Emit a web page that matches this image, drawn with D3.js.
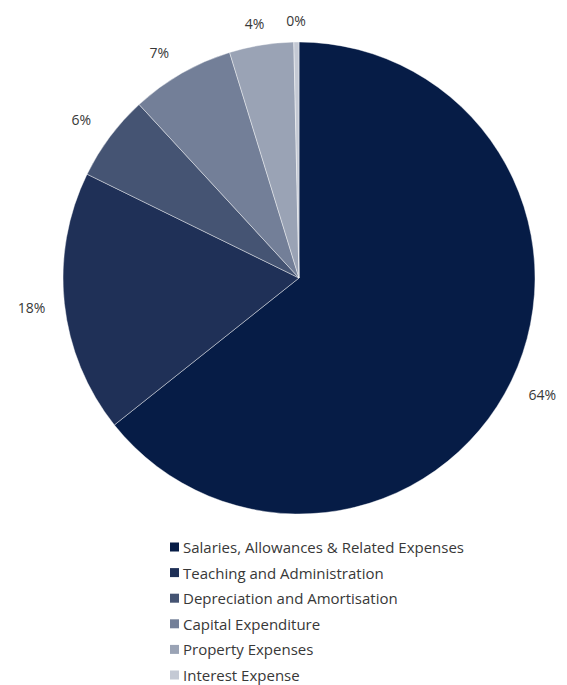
<!DOCTYPE html>
<html>
<head>
<meta charset="utf-8">
<script src="https://cdn.jsdelivr.net/npm/d3@7"></script>
<style>
  html, body { margin: 0; padding: 0; background: #fff; }
  svg { display: block; font-family: "Open Sans", Roboto, sans-serif; }
</style>
</head>
<body>
<svg id="chart"></svg>
<script>
// categories and shares (fractions of total spend)
const categories = [
  "Salaries, Allowances & Related Expenses",
  "Teaching and Administration",
  "Depreciation and Amortisation",
  "Capital Expenditure",
  "Property Expenses",
  "Interest Expense"
];
const shares = [0.643, 0.1795, 0.059, 0.071, 0.044, 0.0035];
const sliceColors = ["#061c46", "#1f3057", "#455473", "#737f98", "#9aa3b5", "#c4c9d4"];

const width = 567, height = 685;
const cx = 299, cy = 278, radius = 236;

const svg = d3.select("#chart")
  .attr("width", width)
  .attr("height", height);

const data = categories.map((c, i) => ({ name: c, value: shares[i] }));
const total = d3.sum(shares);
const fmt = d3.format(".0%");

const pie = d3.pie()
  .value(d => d.value)
  .sort(null);

const arc = d3.arc()
  .innerRadius(0)
  .outerRadius(radius);

const color = d3.scaleOrdinal()
  .domain(categories)
  .range(sliceColors);

const arcs = pie(data);

const viewPort = svg.append("g")
  .attr("transform", `translate(${cx}, ${cy})`);

viewPort.selectAll("path")
  .data(arcs)
  .join("path")
    .attr("d", arc)
    .attr("fill", d => color(d.data.name))
    .attr("stroke", "#ffffff")
    .attr("stroke-opacity", 0.6)
    .attr("stroke-width", 0.7);

// outside-end labels: anchor on a ring, box pushed away from the pie
const labelPos = d => {
  const a = (d.startAngle + d.endAngle) / 2;
  const s = Math.sin(a), c = Math.cos(a);
  const r = 250 + 5 * Math.abs(s);
  return [
    s * r + 14 * Math.max(-1, Math.min(1, s * 2)),
    -c * r - 7 * Math.max(-1, Math.min(1, c * 2))
  ];
};

const labelG = viewPort.append("g")
  .attr("font-size", "14px")
  .attr("fill", "#383838");

labelG.selectAll("text")
  .data(arcs)
  .join("text")
    .attr("text-anchor", "middle")
    .attr("dominant-baseline", "central")
    .attr("x", d => labelPos(d)[0])
    .attr("y", d => labelPos(d)[1])
    .text(d => fmt(d.data.value / total));

// legend
const legend = svg.append("g")
  .attr("transform", "translate(170, 547)");

const rows = legend.selectAll("g")
  .data(categories)
  .join("g")
    .attr("transform", (d, i) => `translate(0, ${i * 25.6})`);

rows.append("rect")
  .attr("x", 0)
  .attr("y", -4.5)
  .attr("width", 9)
  .attr("height", 9)
  .attr("fill", d => color(d));

rows.append("text")
  .attr("x", 13)
  .attr("y", 0)
  .attr("dominant-baseline", "central")
  .attr("font-size", "15px")
  .attr("fill", "#383838")
  .text(d => d);
</script>
</body>
</html>
